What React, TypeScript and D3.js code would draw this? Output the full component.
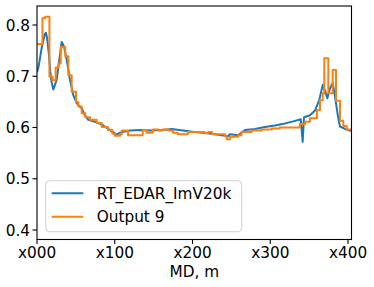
import * as d3 from 'd3';

// MD (m) and value for the measured log
const blueMd = [0, 1.7, 6, 10, 11.5, 13, 15.4, 17.1, 18.6, 21, 25.3, 28.7, 31.8, 34.7, 38.2, 42.4, 46.7, 51.1, 57.5, 61.7, 66, 76.8, 85.3, 93.9, 102.5, 106.8, 119.6, 132.5, 145.3, 162.1, 173.2, 192.5, 209.6, 219.9, 237.6, 245.7, 248.2, 258.5, 267.5, 280.4, 293.2, 306.1, 319, 329.6, 339.2, 341.7, 343.4, 351.1, 357.6, 363.1, 367.5, 370.4, 373.4, 376.8, 380.3, 383.3, 387.5, 389.7, 398.3, 404.5];
const blueVal = [0.708, 0.716, 0.755, 0.782, 0.785, 0.774, 0.741, 0.709, 0.69, 0.674, 0.693, 0.732, 0.767, 0.758, 0.732, 0.693, 0.663, 0.647, 0.637, 0.624, 0.615, 0.61, 0.604, 0.595, 0.586, 0.59, 0.594, 0.595, 0.594, 0.595, 0.597, 0.593, 0.59, 0.589, 0.585, 0.583, 0.587, 0.585, 0.595, 0.597, 0.601, 0.604, 0.608, 0.612, 0.616, 0.572, 0.62, 0.624, 0.633, 0.654, 0.683, 0.672, 0.657, 0.676, 0.687, 0.66, 0.618, 0.602, 0.596, 0.593];

// step output: start MD of each step and its value
const orangeMd = [0, 7, 10.5, 16, 20, 24, 27.5, 30.5, 36.4, 40.3, 44.6, 50.2, 53.1, 57.5, 62.1, 68.2, 76.8, 83.2, 91.3, 97, 100.3, 106.8, 109, 117, 136, 141, 149, 156, 162, 169, 175, 181, 194, 216, 220, 225, 242, 244, 248, 259, 263, 276, 289, 302, 312, 338, 345, 351, 360, 364, 367.5, 369.5, 374.7, 380.3, 384.6, 389.7, 394, 398.3, 404.5];
const orangeVal = [0.763, 0.813, 0.816, 0.699, 0.692, 0.717, 0.725, 0.757, 0.739, 0.702, 0.67, 0.65, 0.641, 0.628, 0.62, 0.615, 0.609, 0.601, 0.595, 0.588, 0.584, 0.587, 0.594, 0.585, 0.595, 0.59, 0.596, 0.594, 0.596, 0.594, 0.59, 0.587, 0.591, 0.589, 0.591, 0.587, 0.583, 0.577, 0.582, 0.585, 0.591, 0.594, 0.596, 0.598, 0.6, 0.607, 0.611, 0.618, 0.634, 0.653, 0.667, 0.735, 0.667, 0.712, 0.652, 0.613, 0.603, 0.596, 0.596];

const xTicks = [0, 100, 200, 300, 400];
const xTickLabels = ['x000', 'x100', 'x200', 'x300', 'x400'];
const yTicks = [0.4, 0.5, 0.6, 0.7, 0.8];
const seriesNames = ['RT_EDAR_ImV20k', 'Output 9'];

const W = 374;
const H = 287;
const left = 37, right = 351.5, top = 6, bottom = 239.5;
const font = 'DejaVu Sans, sans-serif';
const fs = 15.3;

export default function App() {
  const x = d3.scaleLinear().domain([0, 404.5]).range([left, right]);
  const y = d3.scaleLinear().domain([0.4, 0.8]).range([230, 25]);

  const blue = blueMd.map((m, i) => [m, blueVal[i]] as [number, number]);
  const orange = orangeMd.map((m, i) => [m, orangeVal[i]] as [number, number]);

  const line = d3.line<[number, number]>().x(d => x(d[0])).y(d => y(d[1]));
  const step = d3.line<[number, number]>().x(d => x(d[0])).y(d => y(d[1])).curve(d3.curveStepAfter);

  const colors = ['#1f77b4', '#ff7f0e'];

  return (
    <div style={{ position: 'absolute', left: 0, top: 0 }}>
      <svg width={W} height={H} style={{ display: 'block', background: '#fff' }} fontFamily={font}>
        <defs>
          <clipPath id="plot">
            <rect x={left} y={top} width={right - left} height={bottom - top} />
          </clipPath>
        </defs>
        <g clipPath="url(#plot)">
          <path d={line(blue) || ''} fill="none" stroke={colors[0]} strokeWidth={2} strokeLinejoin="round" />
          <path d={step(orange) || ''} fill="none" stroke={colors[1]} strokeWidth={2} strokeLinejoin="round" />
        </g>
        <rect x={left} y={top} width={right - left} height={bottom - top} fill="none" stroke="#000" strokeWidth={1.1} />
        {xTicks.map((t, i) => (
          <g key={t}>
            <line x1={x(t)} x2={x(t)} y1={bottom} y2={bottom + 4.5} stroke="#000" strokeWidth={1.1} />
            <text x={x(t)} y={258.3} textAnchor="middle" fontSize={fs} fill="#000">{xTickLabels[i]}</text>
          </g>
        ))}
        {yTicks.map(t => (
          <g key={t}>
            <line x1={left - 4.5} x2={left} y1={y(t)} y2={y(t)} stroke="#000" strokeWidth={1.1} />
            <text x={30} y={y(t)} dy="0.36em" textAnchor="end" fontSize={fs} fill="#000">{t.toFixed(1)}</text>
          </g>
        ))}
        <text x={(left + right) / 2} y={276.5} textAnchor="middle" fontSize={fs} fill="#000">MD, m</text>
        <rect x={45.7} y={180.7} width={196} height={51} rx={4} fill="#fff" fillOpacity={0.8} stroke="#d0d0d0" strokeWidth={1} />
        {seriesNames.map((n, i) => (
          <g key={n}>
            <line x1={51.7} x2={83.3} y1={193.3 + i * 23.4} y2={193.3 + i * 23.4} stroke={colors[i]} strokeWidth={2} />
            <text x={96.7} y={193.3 + i * 23.4} dy="0.36em" fontSize={fs} fill="#000">{n}</text>
          </g>
        ))}
      </svg>
    </div>
  );
}
